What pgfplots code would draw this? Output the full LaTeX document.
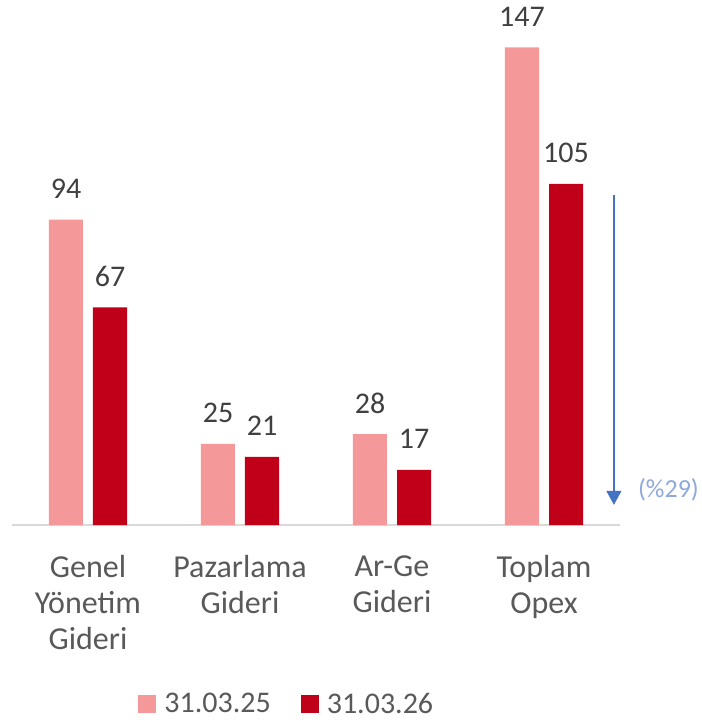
\documentclass[border=0pt]{standalone}
\usepackage{fontspec}
\setmainfont{Carlito}
\usepackage{pgfplots}
\pgfplotsset{compat=1.18}
\usetikzlibrary{arrows.meta}
\definecolor{acik}{HTML}{F5989A}
\definecolor{koyu}{HTML}{C00018}
\definecolor{yazi}{HTML}{404040}
\definecolor{gri}{HTML}{595959}
\definecolor{ok}{HTML}{4472C4}
\definecolor{okyazi}{HTML}{8EA9DB}

\begin{document}
\begin{tikzpicture}
  \begin{axis}[
    name=ax, at={(0,0)}, anchor=south west,
    scale only axis, width=608pt, height=503.75pt,
    ymin=0, ymax=155, xmin=-0.5, xmax=3.5,
    ybar, bar width=34pt,
    axis x line*=bottom, axis y line=none,
    x axis line style={draw=black!15, line width=1.3pt, -},
    xtick=data, major tick length=0pt,
    xticklabels={{Genel\\Yönetim\\Gideri},{Pazarlama\\Gideri},{Ar-Ge\\Gideri},{Toplam\\Opex}},
    xticklabel style={align=center, font=\fontsize{32}{36}\selectfont, text=gri, yshift=-27pt},
    ytick=\empty,
    clip=false,
    /pgf/number format/assume math mode=true,
    nodes near coords,
    every node near coord/.append style={font=\fontsize{30}{36}\selectfont, text=yazi, anchor=base, inner sep=0pt, yshift=21pt},
    legend columns=2,
    legend style={draw=none, fill=none, at={(rel axis cs:0.452,-0.355)}, anchor=center,
      font=\fontsize{30}{36}\selectfont, text=gri,
      /tikz/every odd column/.append style={column sep=6pt},
      /tikz/every even column/.append style={column sep=28pt}},
    legend image code/.code={\fill[#1] (0pt,-9pt) rectangle (18pt,9pt);},
  ]
    \addplot[fill=acik, draw=none, bar shift=-22pt] coordinates {(0,94) (1,25) (2,28) (3,147)};
    \addplot[fill=koyu, draw=none, bar shift=22pt] coordinates {(0,67) (1,21) (2,17) (3,105)};
    \legend{31.03.25, 31.03.26}
    \draw[ok, line width=1.2pt, -{Triangle[width=15pt,length=14pt]}] (axis cs:3.46,101.5) -- (axis cs:3.46,6.2);
    \node[anchor=west, text=okyazi, font=\fontsize{26}{31}\selectfont, inner sep=0pt] at (axis cs:3.46,10.8) [xshift=24pt] {(\%29)};
  \end{axis}
  \pgfresetboundingbox
  \path[use as bounding box] (-12pt,-196pt) rectangle (690pt,525pt);
\end{tikzpicture}
\end{document}
